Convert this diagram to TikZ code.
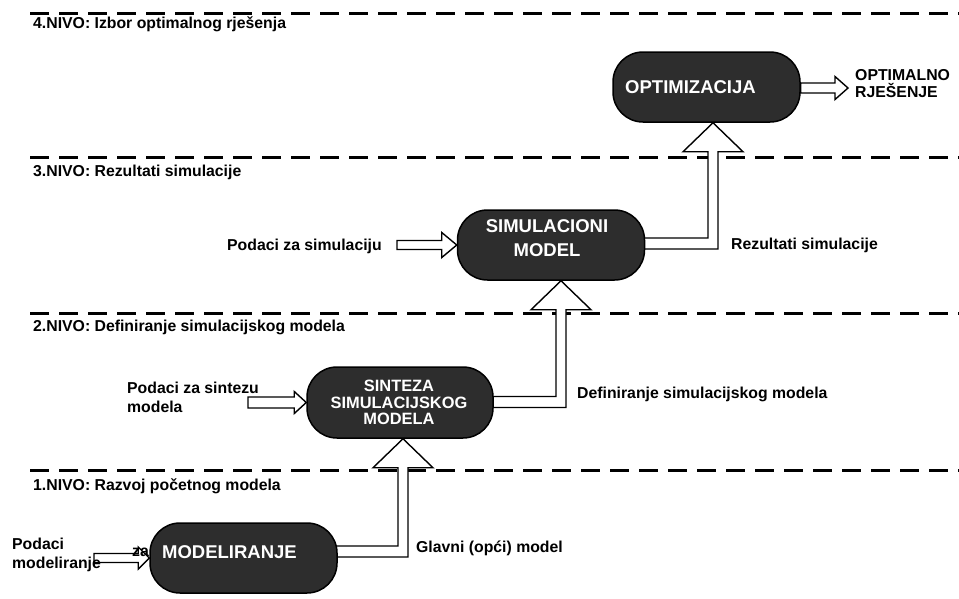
\documentclass[tikz,border=0pt]{standalone}
\usepackage{fontspec}
\setmainfont{Liberation Sans}
\usetikzlibrary{calc,backgrounds}
\definecolor{boxfill}{RGB}{45,45,45}
\tikzset{
  procbox/.style={draw=black, line width=1.5pt, fill=boxfill, rounded corners=30pt,
    minimum width=187pt, minimum height=70pt, inner sep=0pt},
  boxtext/.style={text=white, font=\bfseries\fontsize{18.5}{24}\selectfont, align=center, inner sep=0pt},
  smallboxtext/.style={text=white, font=\bfseries\fontsize{16.4}{16.6}\selectfont, align=center, inner sep=0pt},
  lbl/.style={font=\bfseries\fontsize{15.8}{19}\selectfont, anchor=base west, inner sep=0pt},
  levelline/.style={line width=3pt, dash pattern=on 19pt off 10pt},
  hollow/.style={draw=black, fill=white, line width=1.4pt, line join=miter},
}
% L-shaped hollow arrow: #1 source node, #2 target node, #3 shaft y-offset (up +), #4 tip x-offset
\newcommand\liftarrow[4]{%
  \draw[hollow] let \p1=(#1.center), \p2=(#2.south) in
   (\x1,\y1+#3+5.5pt) -- (\x2+#4-5pt,\y1+#3+5.5pt) -- (\x2+#4-5pt,\y2-29pt)
   -- (\x2+#4-30pt,\y2-29pt) -- (\x2+#4,\y2) -- (\x2+#4+30pt,\y2-29pt)
   -- (\x2+#4+5pt,\y2-29pt) -- (\x2+#4+5pt,\y1+#3-5.5pt) -- (\x1,\y1+#3-5.5pt) -- cycle;}
% straight hollow arrow: #1 from, #2 to, #3 half shaft, #4 half head, #5 head length
\newcommand\feedarrow[5]{%
  \draw[hollow] let \p1=(#1), \p2=(#2) in
   (\x1,\y2+#3) -- (\x2-#5,\y2+#3) -- (\x2-#5,\y2+#4) -- (\x2,\y2)
   -- (\x2-#5,\y2-#4) -- (\x2-#5,\y2-#3) -- (\x1,\y2-#3) -- cycle;}
\begin{document}
\begin{tikzpicture}[x=1pt,y=-1pt]
\useasboundingbox (0,0) rectangle (959,598);

% process boxes
\node[procbox] (opt) at (706.5,87) {};
\node[procbox] (sim) at (551,245) {};
\node[procbox, minimum width=186pt, minimum height=71pt] (sin) at (400,402.5) {};
\node[procbox] (mod) at (243.5,558) {};

\node[boxtext] (optt) at ($(opt.center)+(-16,0)$) {OPTIMIZACIJA};
\node[boxtext] (simt) at ($(sim.center)+(-4,-7)$) {SIMULACIONI\\MODEL};
\node[smallboxtext] (sint) at ($(sin.center)+(-1,0)$) {SINTEZA\\SIMULACIJSKOG\\MODELA};
\node[boxtext] (modt) at ($(mod.center)+(-14,-6)$) {MODELIRANJE};

% free ends
\coordinate (simin) at (397,245);
\coordinate (sinin) at (248,402.5);
\coordinate (modin) at (94,558);
\coordinate (optout) at (848,88);

\begin{pgfonlayer}{background}
  \draw[levelline] (30,13) -- (959,13);
  \draw[levelline] (30,157) -- (959,157);
  \draw[levelline] (30,313) -- (959,313);
  \draw[levelline] (30,470) -- (959,470);

  \liftarrow{mod}{sin}{6.5pt}{3pt}
  \liftarrow{sin}{sim}{0.5pt}{10pt}
  \liftarrow{sim}{opt}{1.5pt}{6.5pt}

  \feedarrow{simin}{sim.west}{4.5pt}{12.5pt}{15pt}
  \feedarrow{sinin}{sin.west}{5.5pt}{11pt}{12pt}
  \feedarrow{modin}{mod.west}{4.5pt}{11pt}{11pt}
  \feedarrow{opt.east}{optout}{5pt}{11.5pt}{13pt}
\end{pgfonlayer}

% level headings
\node[lbl] (l4) at (33,28.5) {4.NIVO: Izbor optimalnog rješenja};
\node[lbl] (l3) at (33,176.5) {3.NIVO: Rezultati simulacije};
\node[lbl] (l2) at (33,331.5) {2.NIVO: Definiranje simulacijskog modela};
\node[lbl] (l1) at (33,490.5) {1.NIVO: Razvoj početnog modela};

% other labels
\node[lbl] (t1) at (227,250) {Podaci za simulaciju};
\node[lbl] (t2) at (731,249) {Rezultati simulacije};
\node[lbl] (t3) at (577,398.5) {Definiranje simulacijskog modela};
\node[lbl] (t4) at (416,552) {Glavni (opći) model};
\node[lbl] (t5) at (855,80.5) {OPTIMALNO};
\node[lbl] (t6) at (855,97.5) {RJEŠENJE};
\node[lbl] (t7) at (127,393.5) {Podaci za sintezu};
\node[lbl] (t8) at (127,412.5) {modela};
\node[lbl] (t9) at (12,549) {Podaci};
\node[lbl] (t10) at (132,556) {za};
\node[lbl] (t11) at (12,568) {modeliranje};
\end{tikzpicture}
\end{document}
